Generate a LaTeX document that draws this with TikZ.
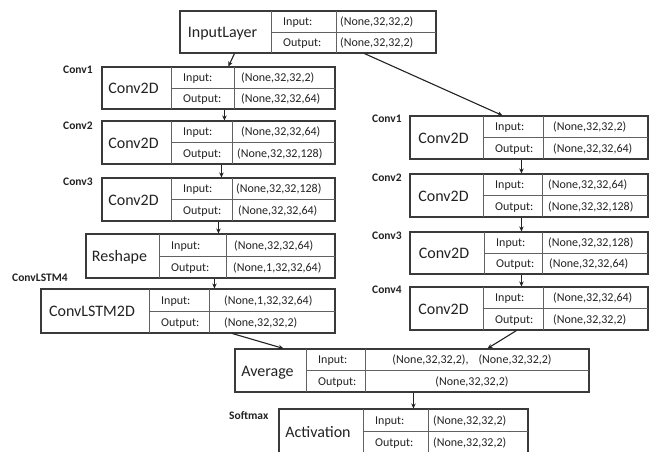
\documentclass[tikz,border=0pt]{standalone}
\usepackage{fontspec}
\setmainfont{Carlito}
\usetikzlibrary{arrows.meta}
\definecolor{ink}{HTML}{222222}
\definecolor{edge}{HTML}{3A3A3A}
\tikzset{
  box/.style={draw=edge, line width=1.1pt, inner sep=0pt, fill=none},
  cell/.style={draw=edge!80, line width=0.8pt},
  ttl/.style={font=\fontsize{16}{18}\selectfont, text=ink, anchor=base, inner sep=0pt},
  lab/.style={font=\fontsize{12}{14}\selectfont, text=ink, anchor=base west, inner sep=0pt},
  val/.style={font=\fontsize{12}{14}\selectfont, text=ink, anchor=base west, inner sep=0pt},
  valc/.style={font=\fontsize{12}{14}\selectfont, text=ink, anchor=base, inner sep=0pt},
  tag/.style={font=\fontsize{11.5}{13}\selectfont\bfseries, text=ink, anchor=west, inner sep=0pt},
  arr/.style={draw=ink, line width=1.1pt, -{Stealth[length=5pt,width=4.5pt]}}
}
\newcommand\lbox[7]{%
  \def\lid{#1}\def\xa{#2}\def\xb{#3}\def\xc{#4}\def\xd{#5}\def\yt{#6}\def\yb{#7}%
  \node[box, minimum width={(#5-#2)*1pt}, minimum height={(#7-#6)*1pt}] (#1) at ({(#2+#5)/2},{(#6+#7)/2}) {};
  \draw[cell] (#3,#6) -- (#3,#7) (#4,#6) -- (#4,#7) (#3,{(#6+#7)/2}) -- (#5,{(#6+#7)/2});
}
\newcommand\ltxt[5]{%
  \node[ttl] (\lid-t) at ({(\xa+\xb)/2-3},{(\yt+\yb)/2+5.5}) {#1};
  \node[lab] (\lid-il) at ({\xb+12},{\yt+(\yb-\yt)/4+4}) {Input:};
  \node[lab] (\lid-ol) at ({\xb+12},{\yt+3*(\yb-\yt)/4+4}) {Output:};
  \node[val] (\lid-iv) at (#4,{\yt+(\yb-\yt)/4+4}) {#2};
  \node[val] (\lid-ov) at (#5,{\yt+3*(\yb-\yt)/4+4}) {#3};
}
\begin{document}
\begin{tikzpicture}[x=1pt,y=-1pt]
\useasboundingbox (0,0) rectangle (652,451);
% input
\lbox{inp}{180}{271}{336}{436}{11}{53}
\ltxt{InputLayer}{(None,32,32,2)}{(None,32,32,2)}{340}{340}
% left branch
\lbox{c1l}{102}{171}{234}{335}{67}{109}
\ltxt{Conv2D}{(None,32,32,2)}{(None,32,32,64)}{241}{241}
\lbox{c2l}{102}{171}{232}{335}{121}{164}
\ltxt{Conv2D}{(None,32,32,64)}{(None,32,32,128)}{241}{237}
\lbox{c3l}{102}{171}{232}{335}{178}{221}
\ltxt{Conv2D}{(None,32,32,128)}{(None,32,32,64)}{236}{238}
\lbox{resh}{86}{159}{226}{335}{234}{278}
\ltxt{Reshape}{(None,32,32,64)}{(None,1,32,32,64)}{234}{233}
\lbox{lstm}{41}{149}{209}{335}{289}{333}
\ltxt{ConvLSTM2D}{(None,1,32,32,64)}{(None,32,32,2)}{224}{224}
% right branch
\lbox{c1r}{410}{483}{543}{648}{116}{159}
\ltxt{Conv2D}{(None,32,32,2)}{(None,32,32,64)}{553}{553}
\lbox{c2r}{410}{483}{542}{648}{174}{217}
\ltxt{Conv2D}{(None,32,32,64)}{(None,32,32,128)}{548}{548}
\lbox{c3r}{410}{484}{542}{648}{232}{274}
\ltxt{Conv2D}{(None,32,32,128)}{(None,32,32,64)}{548}{549}
\lbox{c4r}{410}{483}{543}{648}{287}{330}
\ltxt{Conv2D}{(None,32,32,64)}{(None,32,32,2)}{553}{553}
% average
\lbox{avg}{235}{306}{365}{589}{349}{392}
\node[ttl] (avg-t) at ({(235+306)/2-3},{(349+392)/2+5.5}) {Average};
\node[lab] (avg-il) at (318,{349+43/4+4}) {Input:};
\node[lab] (avg-ol) at (318,{349+3*43/4+4}) {Output:};
\node[valc] (avg-iv) at (472,{349+43/4+4}) {(None,32,32,2),\hspace{10pt}(None,32,32,2)};
\node[valc] (avg-ov) at (472,{349+3*43/4+4}) {(None,32,32,2)};
% activation
\lbox{act}{279}{363}{428}{528}{409}{454}
\ltxt{Activation}{(None,32,32,2)}{(None,32,32,2)}{433}{433}
% tags
\node[tag] (t1) at (63,70) {Conv1};
\node[tag] (t2) at (63,126) {Conv2};
\node[tag] (t3) at (63,182) {Conv3};
\node[tag] (t4) at (12,278) {ConvLSTM4};
\node[tag] (t5) at (372,119) {Conv1};
\node[tag] (t6) at (372,178) {Conv2};
\node[tag] (t7) at (372,236) {Conv3};
\node[tag] (t8) at (372,290) {Conv4};
\node[tag] (t9) at (229,416) {Softmax};
% connectors
\draw[arr] ([xshift=55pt]inp.south west) -- ([xshift=127pt]c1l.north west);
\draw[arr] ([xshift=185pt]inp.south west) -- ([xshift=93pt]c1r.north west);
\draw[arr] ([xshift=123pt]c1l.south west) -- ([xshift=123pt]c2l.north west);
\draw[arr] ([xshift=120pt]c2l.south west) -- ([xshift=120pt]c3l.north west);
\draw[arr] ([xshift=117pt]c3l.south west) -- ([xshift=133pt]resh.north west);
\draw[arr] ([xshift=129pt]resh.south west) -- ([xshift=174pt]lstm.north west);
\draw[arr] ([xshift=192pt]lstm.south west) -- ([xshift=49pt]avg.north west);
\draw[arr] ([xshift=112pt]c1r.south west) -- ([xshift=112pt]c2r.north west);
\draw[arr] ([xshift=112pt]c2r.south west) -- ([xshift=112pt]c3r.north west);
\draw[arr] ([xshift=112pt]c3r.south west) -- ([xshift=112pt]c4r.north west);
\draw[arr] ([xshift=107pt]c4r.south west) -- ([xshift=253pt]avg.north west);
\draw[arr] ([xshift=179pt]avg.south west) -- ([xshift=135pt]act.north west);
\end{tikzpicture}
\end{document}
